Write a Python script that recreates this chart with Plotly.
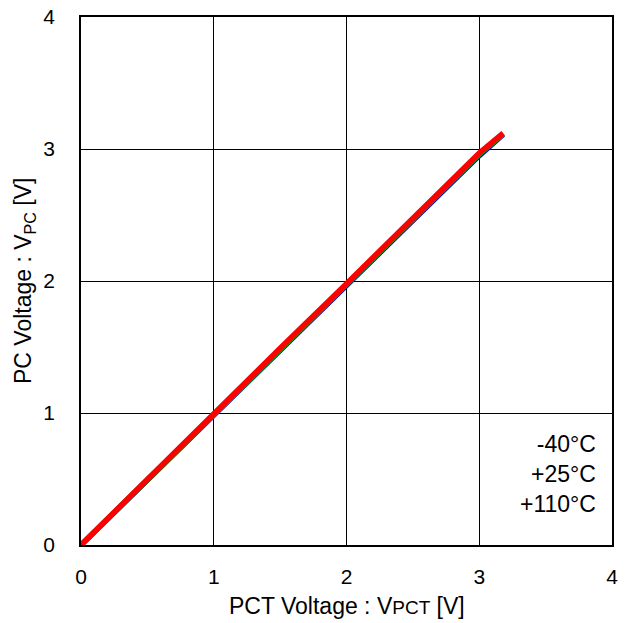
import plotly.graph_objects as go

vpct = [0, 0.5, 1.0, 1.5, 2.0, 2.5, 3.0, 3.18]
vpc_m40 = [0, 0.49, 0.98, 1.47, 1.97, 2.46, 2.95, 3.11]
vpc_p25 = [0, 0.495, 0.99, 1.48, 1.975, 2.47, 2.96, 3.115]
vpc_p110 = [0, 0.5, 0.99, 1.49, 1.98, 2.48, 2.97, 3.12]
series = [("-40°C", vpc_m40, "#0000cc"), ("+25°C", vpc_p25, "#00a000"), ("+110°C", vpc_p110, "#ff0000")]
xticks = [0, 1, 2, 3, 4]
yticks = [0, 1, 2, 3, 4]

FAM = "Arial, Liberation Sans, sans-serif"
fig = go.Figure()
for name, y, c in series:
    fig.add_trace(go.Scatter(x=vpct, y=y, mode="lines", name=name,
                             line=dict(color=c, width=5.5), showlegend=False))

fig.update_layout(
    width=635, height=623,
    margin=dict(l=81, r=23, t=17, b=78),
    paper_bgcolor="white", plot_bgcolor="white",
    font=dict(family=FAM, size=21, color="black"),
    xaxis=dict(range=[0, 4], tickvals=xticks, showgrid=True, gridcolor="#000000", gridwidth=1,
               zeroline=False, showline=True, linecolor="black", linewidth=1.5, mirror=True,
               ticks="outside", ticklen=12, tickcolor="rgba(0,0,0,0)", automargin=False,
               tickfont=dict(size=21)),
    yaxis=dict(range=[0, 4], tickvals=yticks, showgrid=True, gridcolor="#000000", gridwidth=1,
               zeroline=False, showline=True, linecolor="black", linewidth=1.5, mirror=True,
               ticks="outside", ticklen=20, tickcolor="rgba(0,0,0,0)", automargin=False,
               tickfont=dict(size=21)),
)
fig.add_annotation(x=0.5, y=0, xref="paper", yref="paper", yanchor="middle", yshift=-61,
                   text="PCT Voltage : V<span style='font-size:19px'>PCT</span> [V]", showarrow=False,
                   font=dict(family=FAM, size=23, color="black"))
fig.add_annotation(x=0, y=0.5, xref="paper", yref="paper", xanchor="center", xshift=-57,
                   text="PC Voltage : V<sub>PC</sub> [V]", showarrow=False, textangle=-90,
                   font=dict(family=FAM, size=23, color="black"))
fig.add_annotation(x=0.974, y=0.05, xref="paper", yref="paper", xanchor="right", yanchor="bottom",
                   text="-40°C<br>+25°C<br>+110°C", showarrow=False, align="right",
                   font=dict(family=FAM, size=23, color="black"))
fig.write_html("out.html", config={"displayModeBar": False},
               post_script="document.body.style.margin='0';")
